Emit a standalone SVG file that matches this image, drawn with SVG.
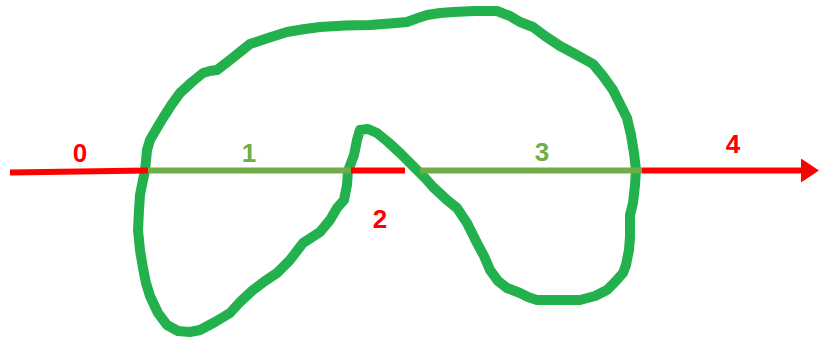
<svg xmlns="http://www.w3.org/2000/svg" width="819" height="342" viewBox="0 0 819 342">
<style>
.curve{fill:none;stroke:#22b14c;stroke-width:10;stroke-linejoin:round;stroke-linecap:round}
.seg{stroke-width:6;fill:none}
.out{stroke:#ff0000}
.in{stroke:#70ad47}
.lbl{font-family:"Liberation Sans",Arial,sans-serif;font-weight:bold;font-size:26px;text-anchor:middle}
.lr{fill:#ff0000}
.lg{fill:#70ad47}
</style>
<defs>
<marker id="arr" markerWidth="4" markerHeight="4" refX="1" refY="2" orient="auto" markerUnits="strokeWidth">
<path d="M0,0 L3,2 L0,4 Z" fill="#ff0000"/>
</marker>
</defs>
<g id="shape">
<path class="curve" d="M145,171 L147,150 L150,140 L157,128 L163,118 L172,104 L180,93 L192,82 L203,73 L210,71 L217,70 L230,60 L250,44 L268,38 L287,32 L305,29 L320,27 L345,25.5 L370,25 L390,23.5 L407,22 L418,18 L427,15 L440,13 L453,12 L475,11 L497,11 L510,16 L520,22 L533,27 L545,36 L560,46 L575,54 L593,64 L603,76 L613,90 L620,104 L627,118 L631,135 L634,153 L636,170 L635,185 L633,203 L630,215 L630,237 L629,250 L626,265 L623,273 L615,282 L607,290 L595,296 L580,300 L560,300 L537,300 L528,297 L520,293 L507,288 L498,281 L490,270 L484,256 L477,243 L467,223 L457,208 L447,200 L433,187 L425,178 L417,170 L408,161 L400,153 L388,142 L377,133 L368,129 L360,130 L357,140 L354,155 L351,163 L348,171 L347,185 L344,200 L337,208 L330,220 L320,232 L303,243 L290,260 L277,273 L265,281 L253,290 L240,302 L230,313 L215,322 L200,330 L190,332 L178,331 L167,325 L158,313 L150,296 L146,283 L143,268 L140,250 L138,230 L139,210 L140,195 L143,180 Z"/>
</g>
<g id="connectors">
<line class="seg out" x1="10" y1="172.5" x2="148" y2="170.5"/>
<line class="seg in" x1="148" y1="170.5" x2="351" y2="170.5"/>
<line class="seg out" x1="351" y1="170.5" x2="405" y2="170.5"/>
<line class="seg in" x1="420" y1="170.5" x2="642" y2="170.5"/>
<line class="seg out" x1="642" y1="170.5" x2="807" y2="170.5" marker-end="url(#arr)"/>
</g>
<g id="labels">
<text class="lbl lr" x="80" y="162">0</text>
<text class="lbl lg" x="249" y="162">1</text>
<text class="lbl lr" x="380" y="228">2</text>
<text class="lbl lg" x="542" y="161">3</text>
<text class="lbl lr" x="733" y="153">4</text>
</g>
</svg>
